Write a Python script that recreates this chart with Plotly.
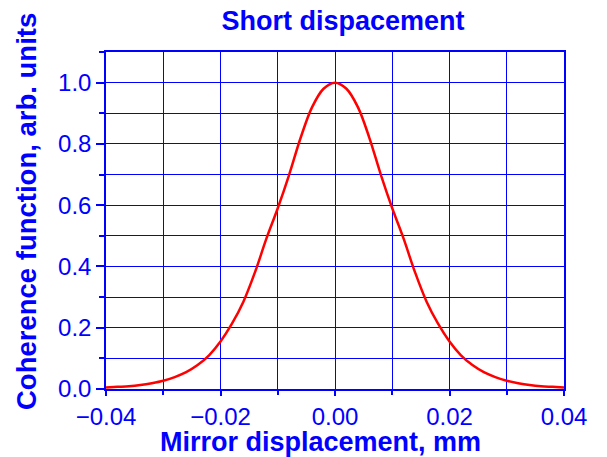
import plotly.graph_objects as go

# Mirror displacement (mm) and coherence function values
x_mm = [-0.040, -0.038, -0.036, -0.034, -0.032, -0.030, -0.028, -0.026, -0.024, -0.022,
        -0.020, -0.018, -0.016, -0.014, -0.012, -0.010, -0.008, -0.006, -0.004, -0.002,
        0.000,
        0.002, 0.004, 0.006, 0.008, 0.010, 0.012, 0.014, 0.016, 0.018, 0.020,
        0.022, 0.024, 0.026, 0.028, 0.030, 0.032, 0.034, 0.036, 0.038, 0.040]
coherence = [0.005, 0.007, 0.009, 0.013, 0.019, 0.027, 0.039, 0.055, 0.078, 0.110,
             0.155, 0.213, 0.285, 0.380, 0.490, 0.590, 0.700, 0.820, 0.920, 0.980,
             1.000,
             0.980, 0.920, 0.820, 0.700, 0.590, 0.490, 0.380, 0.285, 0.213, 0.155,
             0.110, 0.078, 0.055, 0.039, 0.027, 0.019, 0.013, 0.009, 0.007, 0.005]

title_text = "Short dispacement"
x_title = "Mirror displacement, mm"
y_title = "Coherence function, arb. units"

BLUE = "#0000ff"
FONT = "Liberation Sans, Arial, sans-serif"

fig = go.Figure()
fig.add_trace(go.Scatter(x=x_mm, y=coherence, mode="lines",
                         line=dict(color="#ff0000", width=2.5, shape="spline", smoothing=1.0),
                         showlegend=False, hoverinfo="skip"))

axis_common = dict(
    showline=True, linecolor=BLUE, linewidth=1.5, mirror=True,
    showgrid=True, gridcolor=BLUE, gridwidth=1,
    ticks="outside", tickcolor=BLUE, tickwidth=1.5,
    tickfont=dict(family=FONT, size=24, color=BLUE),
    zeroline=False,
)

fig.update_xaxes(range=[-0.04, 0.04], tick0=-0.04, dtick=0.02, tickformat=".2f",
                 ticklen=5,
                 minor=dict(dtick=0.01, tick0=-0.04, showgrid=True, gridcolor=BLUE, gridwidth=1,
                            ticks="outside", ticklen=4, tickcolor=BLUE, tickwidth=1.5),
                 **axis_common)
fig.update_yaxes(range=[0, 1.1], tick0=0, dtick=0.2, tickformat=".1f",
                 ticklen=8,
                 minor=dict(dtick=0.1, tick0=0, showgrid=True, gridcolor=BLUE, gridwidth=1,
                            ticks="outside", ticklen=5, tickcolor=BLUE, tickwidth=1.5),
                 **axis_common)

fig.update_layout(
    width=607, height=457,
    margin=dict(l=106, r=43, t=52, b=68),
    paper_bgcolor="white", plot_bgcolor="white",
    font=dict(family=FONT, color=BLUE),
    title=dict(text="<b>" + title_text + "</b>", x=343 / 607, xref="container", xanchor="center",
               y=1 - 21 / 457, yref="container", yanchor="middle",
               font=dict(family=FONT, size=27, color=BLUE)),
    annotations=[
        dict(text="<b>" + x_title + "</b>", xref="paper", yref="paper",
             x=(320 - 106) / 458, y=-(442 - 389) / 337, xanchor="center", yanchor="middle",
             showarrow=False, font=dict(family=FONT, size=27, color=BLUE)),
        dict(text="<b>" + y_title + "</b>", xref="paper", yref="paper",
             x=-(106 - 26) / 458, y=(389 - 212) / 337, xanchor="center", yanchor="middle",
             textangle=-90, showarrow=False, font=dict(family=FONT, size=27.5, color=BLUE)),
    ],
)

fig.write_html("out.html", config={"displayModeBar": False},
               post_script="document.body.style.margin='0';document.body.style.padding='0';")
